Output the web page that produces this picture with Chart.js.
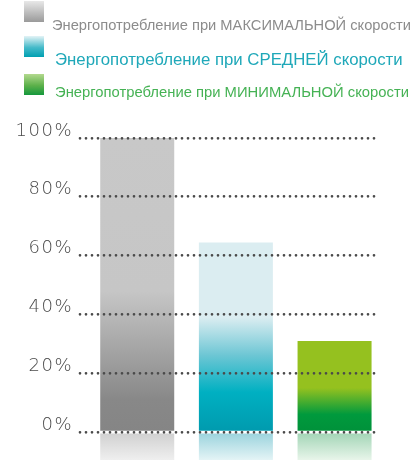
<!DOCTYPE html>
<html>
<head>
<meta charset="utf-8">
<script src="https://cdn.jsdelivr.net/npm/chart.js@4"></script>
<style>
  body { margin: 0; background: #fff; }
  #wrap { position: relative; width: 419px; height: 460px; overflow: hidden; }
  #chartBox { position: absolute; left: 0; top: 0; width: 419px; height: 460px; }
  .sw { position: absolute; left: 24px; width: 20px; height: 21px; }
  .lbl { position: absolute; white-space: nowrap; font-family: "Liberation Sans", Arial, sans-serif; line-height: 1; }
</style>
</head>
<body>
<div id="wrap">
  <div id="chartBox"><canvas id="energyChart"></canvas></div>
  <div id="legend"></div>
</div>
<script>
// данные
const categories = ["МАКСИМАЛЬНАЯ", "СРЕДНЯЯ", "МИНИМАЛЬНАЯ"];
const values = [100, 64.5, 31];
const reflectionDepth = [-9.5, -9.5, -9.5];
const tickValues = [0, 20, 40, 60, 80, 100];
const legendLabels = [
  "Энергопотребление при МАКСИМАЛЬНОЙ скорости",
  "Энергопотребление при СРЕДНЕЙ скорости",
  "Энергопотребление при МИНИМАЛЬНОЙ скорости",
];

// стиль
const barStops = [
  [[0, "#858585"], [11, "#888888"], [48, "#c6c6c6"], [100, "#c8c8c8"]],
  [[0, "#009aae"], [13.6, "#00b0c2"], [26, "#6cc6d4"], [39, "#dbedf1"], [100, "#dbedf1"]],
  [[0, "#00913a"], [6, "#009a3d"], [15, "#95c11f"], [100, "#95c11f"]],
];
const reflectStops = [
  ["#cfcfcf", "#efefef"],
  ["#98d2dc", "#e4f4f6"],
  ["#a0d4b4", "#e8f5ea"],
];
const legendStyle = [
  { color: "#8c8c8c", size: 14.7, top: 18.1, left: 52, swTop: 1, sw: "linear-gradient(#e8e8e8, #9a9a9a)" },
  { color: "#1fa8b9", size: 16.8, top: 51.8, left: 55, swTop: 36, sw: "linear-gradient(#e3f3f6, #45bac9 55%, #00a0b2)" },
  { color: "#45b254", size: 14.8, top: 84.5, left: 55, swTop: 74, sw: "linear-gradient(#b3d98e, #5cb04a 55%, #15983c)" },
];

document.querySelector("#legend").innerHTML = legendLabels
  .map((text, i) => {
    const s = legendStyle[i];
    return `
      <div class="sw" style="top:${s.swTop}px;background:${s.sw}"></div>
      <div class="lbl" style="left:${s.left}px;top:${s.top}px;font-size:${s.size}px;color:${s.color}">${text}</div>
    `;
  })
  .join("");

function barGradient(context) {
  const chart = context.chart;
  if (!chart.chartArea) return "#ccc";
  const y = chart.scales.y;
  const g = chart.ctx.createLinearGradient(0, y.getPixelForValue(0), 0, y.getPixelForValue(100));
  barStops[context.dataIndex].forEach(([v, c]) => g.addColorStop(v / 100, c));
  return g;
}

function reflectGradient(context) {
  const chart = context.chart;
  if (!chart.chartArea) return "#eee";
  const y = chart.scales.y;
  const i = context.dataIndex;
  const g = chart.ctx.createLinearGradient(0, y.getPixelForValue(0), 0, y.getPixelForValue(reflectionDepth[i]));
  g.addColorStop(0, reflectStops[i][0]);
  g.addColorStop(1, reflectStops[i][1]);
  return g;
}

const textStyle = {
  id: "textStyle",
  beforeLayout(chart) {
    chart.ctx.letterSpacing = "1.5px";
  },
  beforeDraw(chart) {
    chart.ctx.letterSpacing = "1.5px";
    chart.ctx.lineCap = "round";
  },
};

new Chart(document.querySelector("#energyChart"), {
  type: "bar",
  data: {
    datasets: [
      {
        label: "energy",
        data: categories.map((_, i) => ({ x: i, y: values[i] })),
        backgroundColor: barGradient,
        grouped: false,
        barPercentage: 0.75,
        categoryPercentage: 1,
      },
      {
        label: "reflection",
        data: categories.map((_, i) => ({ x: i, y: [reflectionDepth[i], 0] })),
        backgroundColor: reflectGradient,
        grouped: false,
        barPercentage: 0.75,
        categoryPercentage: 1,
      },
    ],
  },
  options: {
    animation: false,
    responsive: true,
    maintainAspectRatio: false,
    layout: { padding: { top: 138, right: 43, left: 0, bottom: 0 } },
    plugins: { legend: { display: false }, tooltip: { enabled: false } },
    scales: {
      x: {
        type: "linear",
        min: -0.58,
        max: 2.42,
        offset: false,
        display: false,
        afterBuildTicks: (scale) => {
          scale.ticks = categories.map((_, i) => ({ value: i }));
        },
      },
      y: {
        min: reflectionDepth[0],
        max: 100,
        afterBuildTicks: (scale) => {
          scale.ticks = tickValues.map((v) => ({ value: v }));
        },
        afterFit: (scale) => {
          scale.width = 80;
          scale.paddingTop = 0;
          scale.paddingBottom = 0;
        },
        border: { display: false, dash: [0, 6] },
        grid: { color: "#4a4a4a", lineWidth: 2.7, drawTicks: false, z: 1 },
        ticks: {
          padding: 7,
          labelOffset: -7,
          color: "#4a4a4a",
          font: { family: "DejaVu Sans", weight: 300, size: 18 },
          callback: (v) => `${v}%`,
        },
      },
    },
  },
  plugins: [textStyle],
});
</script>
</body>
</html>
